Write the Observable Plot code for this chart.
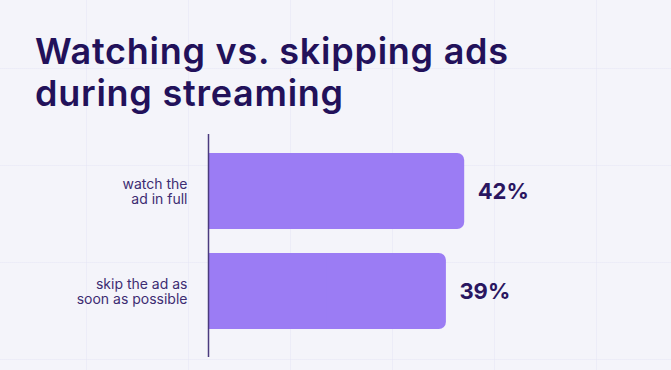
<!DOCTYPE html>
<html>
<head>
<meta charset="utf-8">
<script src="https://cdn.jsdelivr.net/npm/d3@7"></script>
<script src="https://cdn.jsdelivr.net/npm/@observablehq/plot@0.6"></script>
<style>
  html, body { margin: 0; padding: 0; }
  body {
    width: 671px; height: 370px; overflow: hidden;
    background-color: #f4f4fa;
    background-image:
      linear-gradient(to right, rgba(230,230,245,0.55) 1px, transparent 1px),
      linear-gradient(to bottom, rgba(230,230,245,0.55) 1px, transparent 1px);
    background-size: 102px 97px;
    background-position: 86px 68px;
    font-family: Inter, Lato, sans-serif;
  }
  .tline {
    position: absolute; left: 35px;
    margin: 0; font-size: 36px; line-height: 42px; height: 42px; font-weight: 600;
    color: #22115a; letter-spacing: 0.75px; white-space: nowrap;
  }
  #chart { position: absolute; left: 0; top: 120px; }
</style>
</head>
<body>
<div class="tline" style="top:30px">Watching vs. skipping ads</div>
<div class="tline" style="top:72px">during streaming</div>
<div id="chart"></div>
<script>
const categories = ["watch the\nad in full", "skip the ad as\nsoon as possible"];
const values = [42, 39];
const valueLabels = ["42%", "39%"];

const data = categories.map((c, i) => ({category: c, value: values[i], label: valueLabels[i]}));

const barColor = "#9b7cf4";

const chart = Plot.plot({
  width: 671,
  height: 250,
  marginLeft: 208,
  marginRight: 36,
  marginTop: 14,
  marginBottom: 13,
  style: {background: "transparent", overflow: "visible"},
  x: {domain: [0, 70], axis: null},
  y: {domain: categories, axis: null, paddingInner: 0.238, paddingOuter: 0.227, align: 0.41},
  marks: [
    Plot.barX(data, {y: "category", x1: 0, x2: d => d.value, fill: barColor, rx: 7}),
    Plot.barX(data, {y: "category", x1: 0, x2: d => d.value / 2, fill: barColor}),
    Plot.ruleX([0], {stroke: "#4a3a7e", strokeWidth: 1.5}),
    Plot.text(data, {
      y: "category", x: 0, text: "category", textAnchor: "end", dx: -21,
      fontSize: 14, fill: "#3d2c72", lineHeight: 1.1,
      fontFamily: "Inter, Lato, sans-serif"
    }),
    Plot.text(data, {
      y: "category", x: "value", text: "label", textAnchor: "start", dx: 13,
      fontSize: 22, fontWeight: 700, fill: "#2a1660",
      fontFamily: "Inter, Lato, sans-serif"
    })
  ]
});
document.getElementById("chart").appendChild(chart);
</script>
</body>
</html>
